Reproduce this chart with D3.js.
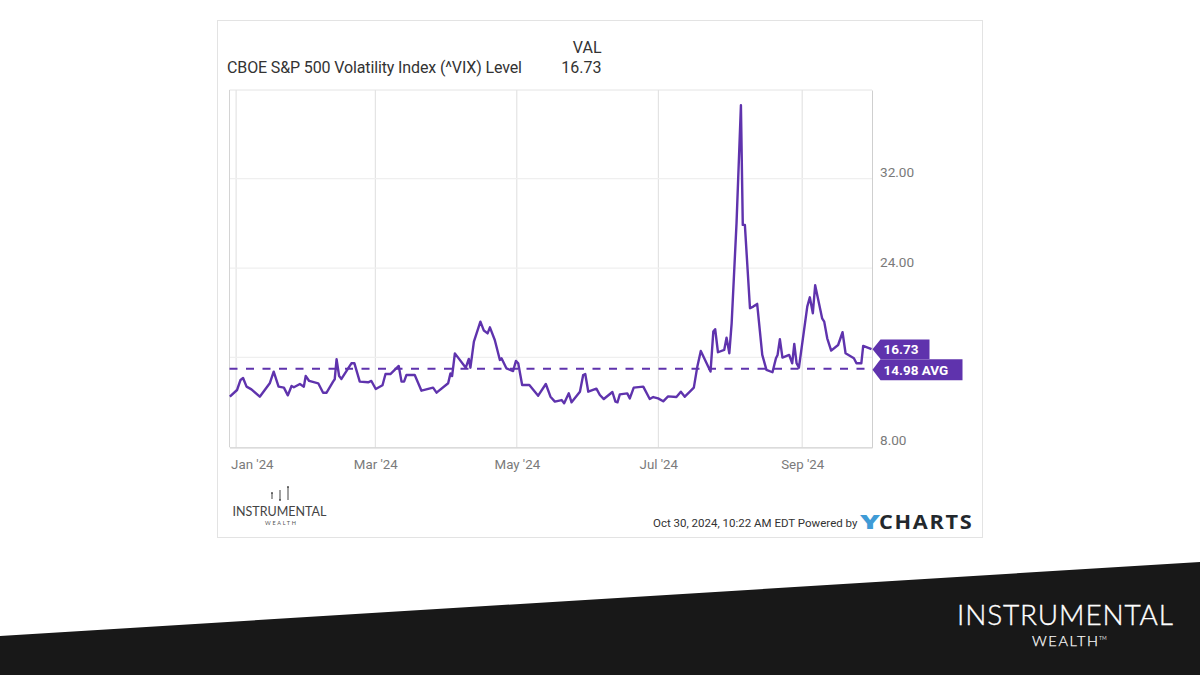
<!DOCTYPE html>
<html><head><meta charset="utf-8">
<script src="https://cdn.jsdelivr.net/npm/d3@7"></script>
<style>html,body{margin:0;padding:0;background:#fff}svg{display:block}text{font-family:Roboto,sans-serif}</style>
</head><body><svg id="c" width="1200" height="675"></svg>
<script>
// days since 1 Jan 2024
const dayOffsets=[-2.7,0.4,1.9,3,4.5,6.6,10.2,14.5,16.2,18.3,20.6,22.3,23.9,24.9,27.5,29.2,30,31.5,35.4,37.5,39,41.8,42.5,43.3,44.4,45.4,48.3,49.7,51,53.3,56.9,58.3,60.2,63.1,64.4,66.5,70.1,71.3,72.4,73.4,77,79.9,84.9,86.4,91.4,92.4,93.1,94.3,99,100.3,101,102.5,105.3,106.8,108.4,109.4,111.5,113.7,114.4,116.5,119.4,120.6,121.6,123.3,126.4,130.2,133.5,135.5,137.4,140.3,141.4,143.4,144.6,148.2,149.6,150.5,151.8,155.3,156.8,158.5,162.2,163.5,164.4,165.4,168.6,169.7,171.4,175.5,178.3,179.8,181.9,184.1,186.2,189.8,191.7,193.4,195.6,197.3,198.8,200.3,204.5,205.7,206.5,207.7,210.4,211.4,212.6,213.6,215.7,217.6,218.4,219.3,221.5,222.9,224.6,226.8,228.6,231.2,232.7,233.4,234.4,235.5,238.4,239.7,240.6,241.6,242.6,246.2,247.3,248.6,249.6,252.6,253.5,254.8,256.5,259.5,261.4,262.7,266.3,267.4,269.5,270.3,273.9];
const vixValues=[12.48,13.08,13.98,14.15,13.38,13.14,12.48,13.68,14.72,13.38,13.29,12.6,13.44,13.32,13.62,13.38,14.33,13.89,13.68,12.84,12.84,13.83,14.04,15.83,14.33,14.07,15.02,15.47,15.47,13.83,13.77,13.89,13.17,13.5,14.51,14.51,15.23,13.83,13.83,14.42,14.42,13.02,13.29,12.84,13.68,14.57,14.33,16.36,15.08,15.86,15.08,17.41,19.2,18.4,18.15,18.69,17.56,15.77,15.92,15.02,14.78,15.68,15.47,13.53,13.53,12.57,13.62,12.48,12.04,12.18,11.89,12.78,11.98,12.93,14.42,14.51,12.93,13.2,12.63,12.27,12.9,12.04,11.98,12.69,12.78,12.33,13.29,13.38,12.27,12.45,12.33,12.07,12.51,12.45,12.93,12.48,12.93,13.29,15.17,16.58,14.73,18.31,18.52,16.46,16.67,17.77,16.37,19.05,28.0,38.57,27.86,27.86,20.4,20.55,20.79,16.22,14.88,14.67,15.92,16.22,17.62,15.98,16.22,15.47,17.2,15.47,15.08,20.55,21.38,19.95,22.46,19.5,19.2,17.71,16.61,17.11,18.25,16.37,15.92,15.47,15.47,17.03,16.73];
const xTickDates=["2024-01-01","2024-03-01","2024-05-01","2024-07-01","2024-09-01"];
const xTickLabels=["Jan '24","Mar '24","May '24","Jul '24","Sep '24"];
const yTicks=[8,16,24,32];
const yLabelled=[8,24,32];
const avgValue=14.98, lastValue=16.73;

const DAY=864e5, base=Date.UTC(2024,0,1);
const toDate=d=>new Date(base+d*DAY);
const parse=s=>new Date(s+"T00:00:00Z");
const pts=dayOffsets.map((d,i)=>({date:toDate(d),v:vixValues[i]}));
const PURPLE="#5f33ad";

const L=229.5,R=872,T=90,B=447.3;
const x=d3.scaleUtc().domain([toDate(-2.85),toDate(274.1)]).range([L,R]);
const y=d3.scaleLinear().domain([7.95,39.94]).range([B,T]);
const svg=d3.select("#c");

// card
svg.append("rect").attr("x",217.5).attr("y",20.5).attr("width",765).attr("height",517)
  .attr("fill","#fff").attr("stroke","#e3e3e3");

// plot frame + grid
const g=svg.append("g");
g.append("g").selectAll("line").data(xTickDates).join("line")
  .attr("x1",d=>x(parse(d))).attr("x2",d=>x(parse(d))).attr("y1",T).attr("y2",B)
  .attr("stroke","#dedede");
g.append("g").selectAll("line").data(yTicks.filter(t=>t>8)).join("line")
  .attr("x1",L).attr("x2",R).attr("y1",d=>y(d)).attr("y2",d=>y(d))
  .attr("stroke","#efefef").attr("stroke-width",1.3);
g.append("line").attr("x1",L).attr("x2",R).attr("y1",T).attr("y2",T).attr("stroke","#e4e4e4");
g.append("line").attr("x1",L).attr("x2",L).attr("y1",T).attr("y2",B).attr("stroke","#d4d4d4");

// x axis
const xAxis=d3.axisBottom(x).tickValues(xTickDates.map(parse)).tickSize(0).tickPadding(12)
  .tickFormat((d,i)=>xTickLabels[i]);
const xg=svg.append("g").attr("transform",`translate(0,${B})`).call(xAxis);
xg.select(".domain").attr("stroke","#cfcfcf").attr("stroke-width",1.3);
xg.selectAll("text").attr("font-size",13.3).attr("fill","#7a7a7a").attr("font-family","Roboto");
xg.selectAll(".tick").filter((d,i)=>i===0).select("text").attr("text-anchor","start").attr("dx",-5.5);

// y axis
const yAxis=d3.axisRight(y).tickValues(yLabelled).tickSize(0).tickPadding(8).tickFormat(d3.format(".2f"));
const yg=svg.append("g").attr("transform",`translate(${R},0)`).call(yAxis);
yg.select(".domain").attr("stroke","#cfcfcf");
yg.selectAll("text").attr("font-size",13.6).attr("fill","#7a7a7a").attr("font-family","Roboto").attr("dy",-2);

// average line
svg.append("line").attr("x1",L).attr("x2",R).attr("y1",y(avgValue)).attr("y2",y(avgValue))
  .attr("stroke",PURPLE).attr("stroke-width",2).attr("stroke-dasharray","8 8.5");

// series
svg.append("path").datum(pts).attr("fill","none").attr("stroke",PURPLE).attr("stroke-width",2.4)
  .attr("stroke-linejoin","round")
  .attr("d",d3.line().x(d=>x(d.date)).y(d=>y(d.v)));

// flags
function flag(v,w,h,label){
  const yy=y(v)+ (v===avgValue?1:0), t=R+0.5;
  const path=d3.path();
  path.moveTo(t,yy);path.lineTo(t+8,yy-h/2);path.lineTo(t+w,yy-h/2);path.lineTo(t+w,yy+h/2);path.lineTo(t+8,yy+h/2);path.closePath();
  svg.append("path").attr("d",path.toString()).attr("fill",PURPLE);
  svg.append("text").attr("x",t+11).attr("y",yy+0.5).attr("dy","0.35em").attr("fill","#fff")
    .attr("font-size",13.5).attr("font-weight",700).text(label);
}
flag(lastValue,57,19.5,d3.format(".2f")(lastValue));
flag(avgValue,90,21,d3.format(".2f")(avgValue)+" AVG");

// header
const hdr=(tx,ty,s,anc)=>svg.append("text").attr("x",tx).attr("y",ty).attr("font-size",16).attr("fill","#333")
  .attr("text-anchor",anc||"start").text(s);
hdr(601.5,53,"VAL","end");
hdr(601.5,73,d3.format(".2f")(lastValue),"end");
hdr(227,73,"CBOE S&P 500 Volatility Index (^VIX) Level").attr("textLength",295);

// footer
svg.append("text").attr("x",653).attr("y",527).attr("font-size",11.5).attr("fill","#333")
  .text("Oct 30, 2024, 10:22 AM EDT Powered by");
svg.append("text").attr("x",860).attr("y",528.5).attr("font-size",19).attr("font-weight",800)
  .attr("style","font-family:'Open Sans'").attr("fill","#3f9bd6")
  .attr("textLength",20).attr("lengthAdjust","spacingAndGlyphs").text("Y");
svg.append("text").attr("x",879).attr("y",528.5).attr("font-size",19).attr("font-weight",700)
  .attr("style","font-family:'Open Sans'").attr("letter-spacing",1.5).attr("fill","#23282d")
  .attr("textLength",94.5).attr("lengthAdjust","spacingAndGlyphs").text("CHARTS");

// small logo
const icon=svg.append("g").attr("stroke","#444").attr("stroke-width",1).attr("fill","#444");
[[272,493,499,493],[280,490,500,500],[288,487,500,487]].forEach(a=>{
  icon.append("line").attr("x1",a[0]).attr("x2",a[0]).attr("y1",a[1]).attr("y2",a[2]);
  icon.append("circle").attr("cx",a[0]).attr("cy",a[3]).attr("r",0.9).attr("stroke","none");
});
svg.append("text").attr("x",232.5).attr("y",516).attr("font-size",12.5)
  .attr("style","font-family:Lato").attr("fill","#444").attr("textLength",94).text("INSTRUMENTAL");
svg.append("text").attr("x",265).attr("y",525).attr("font-size",5.5)
  .attr("style","font-family:Lato").attr("fill","#555").attr("textLength",31).text("WEALTH");

// bottom band
svg.append("path").attr("d","M0,636L1200,562L1200,675L0,675Z").attr("fill","#181818");
svg.append("text").attr("x",957).attr("y",625).attr("font-size",28).attr("font-weight",300)
  .attr("style","font-family:Lato").attr("fill","#fff").attr("stroke","#fff").attr("stroke-width",0.35)
  .attr("textLength",216).text("INSTRUMENTAL");
svg.append("text").attr("x",1032).attr("y",645.5).attr("font-size",14.5).attr("font-weight",300)
  .attr("style","font-family:Lato").attr("fill","#fff").attr("stroke","#fff").attr("stroke-width",0.25)
  .attr("textLength",66).text("WEALTH");
svg.append("text").attr("x",1099).attr("y",640).attr("font-size",5)
  .attr("style","font-family:Lato").attr("fill","#ddd").text("TM");
</script></body></html>
